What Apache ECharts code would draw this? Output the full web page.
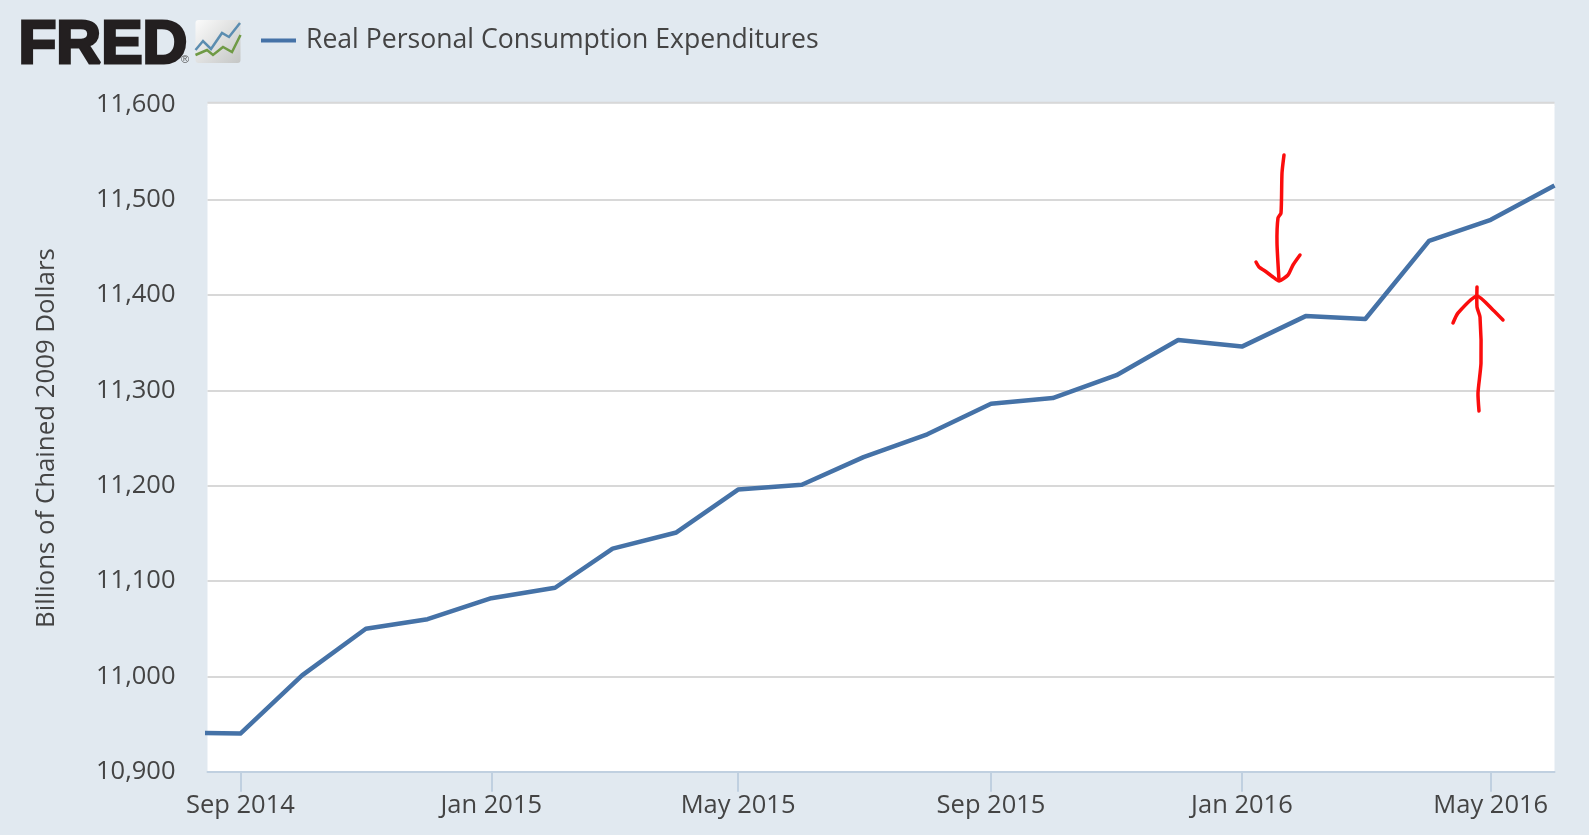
<!DOCTYPE html>
<html>
<head>
<meta charset="utf-8">
<title>Real Personal Consumption Expenditures</title>
<script src="https://cdn.jsdelivr.net/npm/echarts@6/dist/echarts.min.js"></script>
<style>
    html, body { margin: 0; padding: 0; background: #e1e9f0; }
    #chart { width: 1589px; height: 835px; }
</style>
</head>
<body>
<div id="chart"></div>
<script>
    // monthly values
    var months = ['2014-08-01', '2014-09-01', '2014-10-01', '2014-11-01', '2014-12-01', '2015-01-01', '2015-02-01', '2015-03-01',
        '2015-04-01', '2015-05-01', '2015-06-01', '2015-07-01', '2015-08-01', '2015-09-01', '2015-10-01', '2015-11-01',
        '2015-12-01', '2016-01-01', '2016-02-01', '2016-03-01', '2016-04-01', '2016-05-01', '2016-06-01'];
    var pce = [10941, 10940, 11001, 11050, 11060, 11082, 11093, 11134,
        11151, 11196, 11201, 11230, 11254, 11286, 11292, 11316,
        11353, 11346, 11378, 11375, 11457, 11479, 11515];
    var seriesName = 'Real Personal Consumption Expenditures';
    var yTitle = 'Billions of Chained 2009 Dollars';
    var xTicks = ['2014-09-01', '2015-01-01', '2015-05-01', '2015-09-01', '2016-01-01', '2016-05-01'];
    var xRange = ['2014-08-16', '2016-06-01'];
    var yRange = [10900, 11600];
    var yStep = 100;

    var FONT = '"Open Sans", "Noto Sans", sans-serif';
    var monthNames = ['Jan', 'Feb', 'Mar', 'Apr', 'May', 'Jun', 'Jul', 'Aug', 'Sep', 'Oct', 'Nov', 'Dec'];

    function toTime(s) {
        var p = s.split('-');
        return Date.UTC(+p[0], +p[1] - 1, +p[2]);
    }

    // hand drawn red arrows and the logo are page decoration, not data
    function redStroke(points) {
        return {
            type: 'polyline',
            shape: { points: points, smooth: 0.2 },
            style: { stroke: '#fb0d0d', lineWidth: 3.5, fill: null, lineCap: 'round', lineJoin: 'round' },
            z: 20
        };
    }

    var decoration = [
        { type: 'text', left: 17, top: 13, style: { text: 'FRED', font: '900 62px "Liberation Sans"', fill: '#231f20', stroke: '#231f20', lineWidth: 3 } },
        { type: 'text', left: 181, top: 54, style: { text: '®', font: '11px "Liberation Sans"', fill: '#555555' } },
        {
            type: 'rect',
            shape: { x: 195.5, y: 20, width: 45, height: 43, r: 3 },
            style: {
                fill: new echarts.graphic.LinearGradient(0, 0, 1, 1, [
                    { offset: 0, color: '#fbfbfb' },
                    { offset: 1, color: '#c4c6c5' }
                ])
            }
        },
        { type: 'polyline', shape: { points: [[195.5, 50], [203, 41], [211, 49], [222, 33], [229, 37], [240, 23]] }, style: { stroke: '#5b8db0', lineWidth: 2.5, fill: null } },
        { type: 'polyline', shape: { points: [[195.5, 55], [207, 50], [213, 55], [223, 47], [232, 52], [240.5, 35]] }, style: { stroke: '#6f9a45', lineWidth: 2.5, fill: null } },
        // top edge of the plot sits a little above the 11,600 position in the reference
        { type: 'rect', shape: { x: 207.5, y: 103.5, width: 1347, height: 3 }, style: { fill: '#ffffff' }, z: 5 },
        { type: 'rect', shape: { x: 207.5, y: 101.7, width: 1347, height: 2 }, style: { fill: '#d8d8d8' }, z: 5 },
        redStroke([[1284, 155], [1282, 173], [1281, 213], [1278, 218], [1277, 243], [1279, 280]]),
        redStroke([[1256, 262], [1259, 267], [1265, 271], [1273, 277], [1279, 281], [1288, 275], [1293, 265], [1300, 255]]),
        redStroke([[1479, 411], [1478, 393], [1481, 363], [1480, 317], [1477, 307], [1477, 287]]),
        redStroke([[1453, 323], [1458, 313], [1477, 296], [1493, 310], [1503, 320]])
    ];

    var chart = echarts.init(document.getElementById('chart'));
    chart.setOption({
        animation: false,
        backgroundColor: '#e1e9f0',
        textStyle: { fontFamily: FONT },
        graphic: decoration,
        legend: {
            left: 256,
            top: 22,
            icon: 'rect',
            itemWidth: 35,
            itemHeight: 4,
            itemGap: 0,
            textStyle: { fontFamily: FONT, fontSize: 26.6, color: '#444444', padding: [0, 0, 0, 5] },
            data: [seriesName]
        },
        grid: {
            left: 207.5,
            right: 34.5,
            top: 104.5,
            bottom: 63.3,
            show: true,
            backgroundColor: '#ffffff',
            borderWidth: 0
        },
        // timestamps on a value axis, so the ticks can sit exactly on the month starts
        xAxis: {
            type: 'value',
            min: toTime(xRange[0]),
            max: toTime(xRange[1]),
            splitLine: { show: false },
            axisLine: { lineStyle: { color: '#c0d0e0', width: 2 } },
            axisTick: {
                length: 20,
                lineStyle: { color: '#c0d0e0', width: 2 },
                customValues: xTicks.map(toTime)
            },
            axisLabel: {
                customValues: xTicks.map(toTime),
                fontFamily: FONT,
                fontSize: 25.5,
                color: '#444444',
                margin: 21,
                hideOverlap: false,
                formatter: function (value) {
                    var d = new Date(value);
                    return monthNames[d.getUTCMonth()] + ' ' + d.getUTCFullYear();
                }
            }
        },
        yAxis: {
            type: 'value',
            min: yRange[0],
            max: yRange[1],
            interval: yStep,
            name: yTitle,
            nameLocation: 'middle',
            nameGap: 148,
            nameTextStyle: { fontFamily: FONT, fontSize: 25.8, color: '#444444' },
            axisLine: { show: false },
            axisTick: { show: false },
            splitLine: { lineStyle: { color: '#d8d8d8', width: 2 } },
            axisLabel: {
                fontFamily: FONT,
                fontSize: 25.5,
                color: '#444444',
                margin: 32,
                padding: [5, 0, 0, 0],
                formatter: function (value) {
                    return value.toLocaleString('en-US');
                }
            }
        },
        series: [
            {
                name: seriesName,
                type: 'line',
                clip: true,
                symbol: 'none',
                lineStyle: { color: '#4572a7', width: 4.5, join: 'round' },
                itemStyle: { color: '#4572a7' },
                data: months.map(function (m, i) { return [toTime(m), pce[i]]; })
            }
        ]
    });
</script>
</body>
</html>
